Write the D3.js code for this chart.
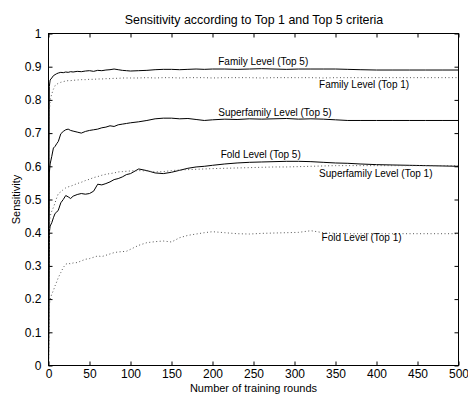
<!DOCTYPE html>
<html>
<head>
<meta charset="utf-8">
<script src="https://cdn.jsdelivr.net/npm/d3@7"></script>
<style>
  html, body { margin: 0; padding: 0; background: #fff; }
  svg { display: block; }
  text { font-family: "Liberation Sans", Arial, Helvetica, sans-serif; fill: #000; }
</style>
</head>
<body>
<svg id="chart" width="468" height="394"></svg>
<script>
// ---- data ----
const rounds = [0,1,2,4,6,8,10,12,15,18,21,24,27,30,35,40,45,50,55,60,65,70,75,80,85,90,95,100,
  110,120,130,140,150,160,170,180,190,200,215,230,245,260,275,290,305,320,335,350,365,380,400,420,440,460,480,500];

const familyTop5 = [0,0.84,0.86,0.866,0.873,0.876,0.879,0.881,0.883,0.882,0.884,0.883,0.885,0.884,0.886,0.885,0.887,0.888,0.886,0.889,0.888,0.890,0.891,0.893,0.891,0.889,0.888,0.887,
  0.888,0.889,0.891,0.892,0.892,0.891,0.892,0.893,0.892,0.893,0.893,0.892,0.893,0.894,0.893,0.892,0.893,0.893,0.893,0.893,0.892,0.891,0.890,0.890,0.890,0.890,0.890,0.890];

const familyTop1 = [0,0.76,0.80,0.818,0.832,0.843,0.847,0.850,0.853,0.855,0.857,0.858,0.858,0.859,0.860,0.861,0.861,0.862,0.862,0.863,0.863,0.864,0.864,0.865,0.865,0.866,0.866,0.866,
  0.866,0.867,0.866,0.867,0.867,0.866,0.867,0.867,0.867,0.866,0.867,0.867,0.867,0.866,0.867,0.867,0.867,0.867,0.866,0.867,0.867,0.867,0.867,0.867,0.867,0.867,0.867,0.867];

const superfamilyTop5 = [0,0.58,0.607,0.63,0.655,0.660,0.668,0.675,0.698,0.705,0.710,0.712,0.708,0.706,0.703,0.700,0.705,0.708,0.710,0.712,0.716,0.718,0.722,0.720,0.725,0.727,0.729,0.731,
  0.734,0.738,0.743,0.745,0.745,0.743,0.744,0.741,0.738,0.740,0.742,0.741,0.743,0.742,0.743,0.744,0.742,0.743,0.742,0.740,0.738,0.738,0.738,0.738,0.738,0.738,0.738,0.738];

const superfamilyTop1 = [0,0.42,0.45,0.465,0.476,0.490,0.505,0.518,0.523,0.530,0.535,0.538,0.540,0.543,0.548,0.552,0.557,0.561,0.566,0.569,0.573,0.576,0.578,0.580,0.583,0.584,0.585,0.586,
  0.587,0.586,0.583,0.584,0.587,0.589,0.590,0.591,0.592,0.593,0.594,0.595,0.596,0.597,0.598,0.598,0.599,0.600,0.601,0.602,0.602,0.602,0.602,0.602,0.602,0.602,0.602,0.602];

const foldTop5 = [0,0.40,0.42,0.43,0.445,0.458,0.462,0.468,0.490,0.500,0.512,0.508,0.503,0.510,0.515,0.518,0.516,0.518,0.525,0.546,0.544,0.548,0.553,0.560,0.563,0.568,0.575,0.578,
  0.592,0.587,0.580,0.578,0.582,0.588,0.594,0.598,0.600,0.603,0.607,0.610,0.612,0.613,0.614,0.615,0.615,0.614,0.612,0.610,0.609,0.607,0.605,0.604,0.603,0.602,0.601,0.600];

const foldTop1 = [0,0.18,0.20,0.215,0.226,0.240,0.252,0.265,0.280,0.295,0.305,0.308,0.306,0.309,0.310,0.315,0.320,0.322,0.326,0.330,0.328,0.332,0.336,0.340,0.342,0.343,0.344,0.350,
  0.362,0.370,0.373,0.375,0.372,0.385,0.392,0.396,0.400,0.403,0.400,0.397,0.396,0.398,0.399,0.400,0.401,0.406,0.400,0.398,0.397,0.397,0.397,0.397,0.397,0.397,0.397,0.397];

const seriesNames = ["Family Level (Top 5)","Family Level (Top 1)","Superfamily Level (Top 5)","Fold Level (Top 5)","Superfamily Level (Top 1)","Fold Level (Top 1)"];
const seriesValues = [familyTop5, familyTop1, superfamilyTop5, foldTop5, superfamilyTop1, foldTop1];
const seriesDotted = [false, true, false, false, true, true];
// label anchors in data units (rounds, sensitivity)
const labelRounds = [207, 330, 207, 210, 330, 333];
const labelSens   = [0.904, 0.837, 0.753, 0.624, 0.568, 0.376];

const xTicks = [0,50,100,150,200,250,300,350,400,450,500];
const yTicks = [0,0.1,0.2,0.3,0.4,0.5,0.6,0.7,0.8,0.9,1];
const titleText = "Sensitivity according to Top 1 and Top 5 criteria";
const xLabel = "Number of training rounds";
const yLabel = "Sensitivity";

// ---- layout ----
const L = 48.5, R = 458.5, T = 33.5, B = 365.5;
const svg = d3.select("#chart");
const x = d3.scaleLinear().domain([0, 500]).range([L, R]);
const y = d3.scaleLinear().domain([0, 1]).range([B, T]);

// lines
const line = d3.line().x((d, i) => x(rounds[i])).y(d => y(d));
seriesValues.forEach((vals, k) => {
  svg.append("path")
    .datum(vals)
    .attr("d", line)
    .attr("fill", "none")
    .attr("stroke", seriesDotted[k] ? "#555" : "#000")
    .attr("stroke-width", 1)
    .attr("stroke-dasharray", seriesDotted[k] ? "1,2.5" : null);
});

// axes
const fmtY = d => d === 0 ? "0" : d === 1 ? "1" : d3.format(".1f")(d);
const axBottom = d3.axisBottom(x).tickValues(xTicks).tickSizeInner(-4).tickSizeOuter(0).tickPadding(4);
const axTop = d3.axisTop(x).tickValues(xTicks).tickSizeInner(-4).tickSizeOuter(0).tickFormat("");
const axLeft = d3.axisLeft(y).tickValues(yTicks).tickSizeInner(-4).tickSizeOuter(0).tickPadding(7).tickFormat(fmtY);
const axRight = d3.axisRight(y).tickValues(yTicks).tickSizeInner(-4).tickSizeOuter(0).tickFormat("");

function styleAxis(g) {
  g.select(".domain").remove();
  g.selectAll("line").attr("stroke", "#000");
  g.selectAll("text").style("font-size", "12px").attr("font-family", null);
}
svg.append("g").attr("transform", `translate(0,${B})`).call(axBottom).call(styleAxis);
svg.append("g").attr("transform", `translate(0,${T})`).call(axTop).call(styleAxis);
svg.append("g").attr("transform", `translate(${L},0)`).call(axLeft).call(styleAxis);
svg.append("g").attr("transform", `translate(${R},0)`).call(axRight).call(styleAxis);

svg.append("rect")
  .attr("x", L).attr("y", T).attr("width", R - L).attr("height", B - T)
  .attr("fill", "none").attr("stroke", "#000").attr("stroke-width", 1);

// series labels
seriesNames.forEach((name, k) => {
  svg.append("text")
    .attr("x", x(labelRounds[k]))
    .attr("y", y(labelSens[k]))
    .style("font-size", "10px")
    .text(name);
});

// title and axis labels
svg.append("text").attr("x", 254).attr("y", 24)
  .attr("text-anchor", "middle").style("font-size", "12.4px").text(titleText);
svg.append("text").attr("x", (L + R) / 2).attr("y", 391.6)
  .attr("text-anchor", "middle").style("font-size", "11px").text(xLabel);
svg.append("text")
  .attr("transform", `translate(20,${(T + B) / 2}) rotate(-90)`)
  .attr("text-anchor", "middle").style("font-size", "11px").text(yLabel);
</script>
</body>
</html>
